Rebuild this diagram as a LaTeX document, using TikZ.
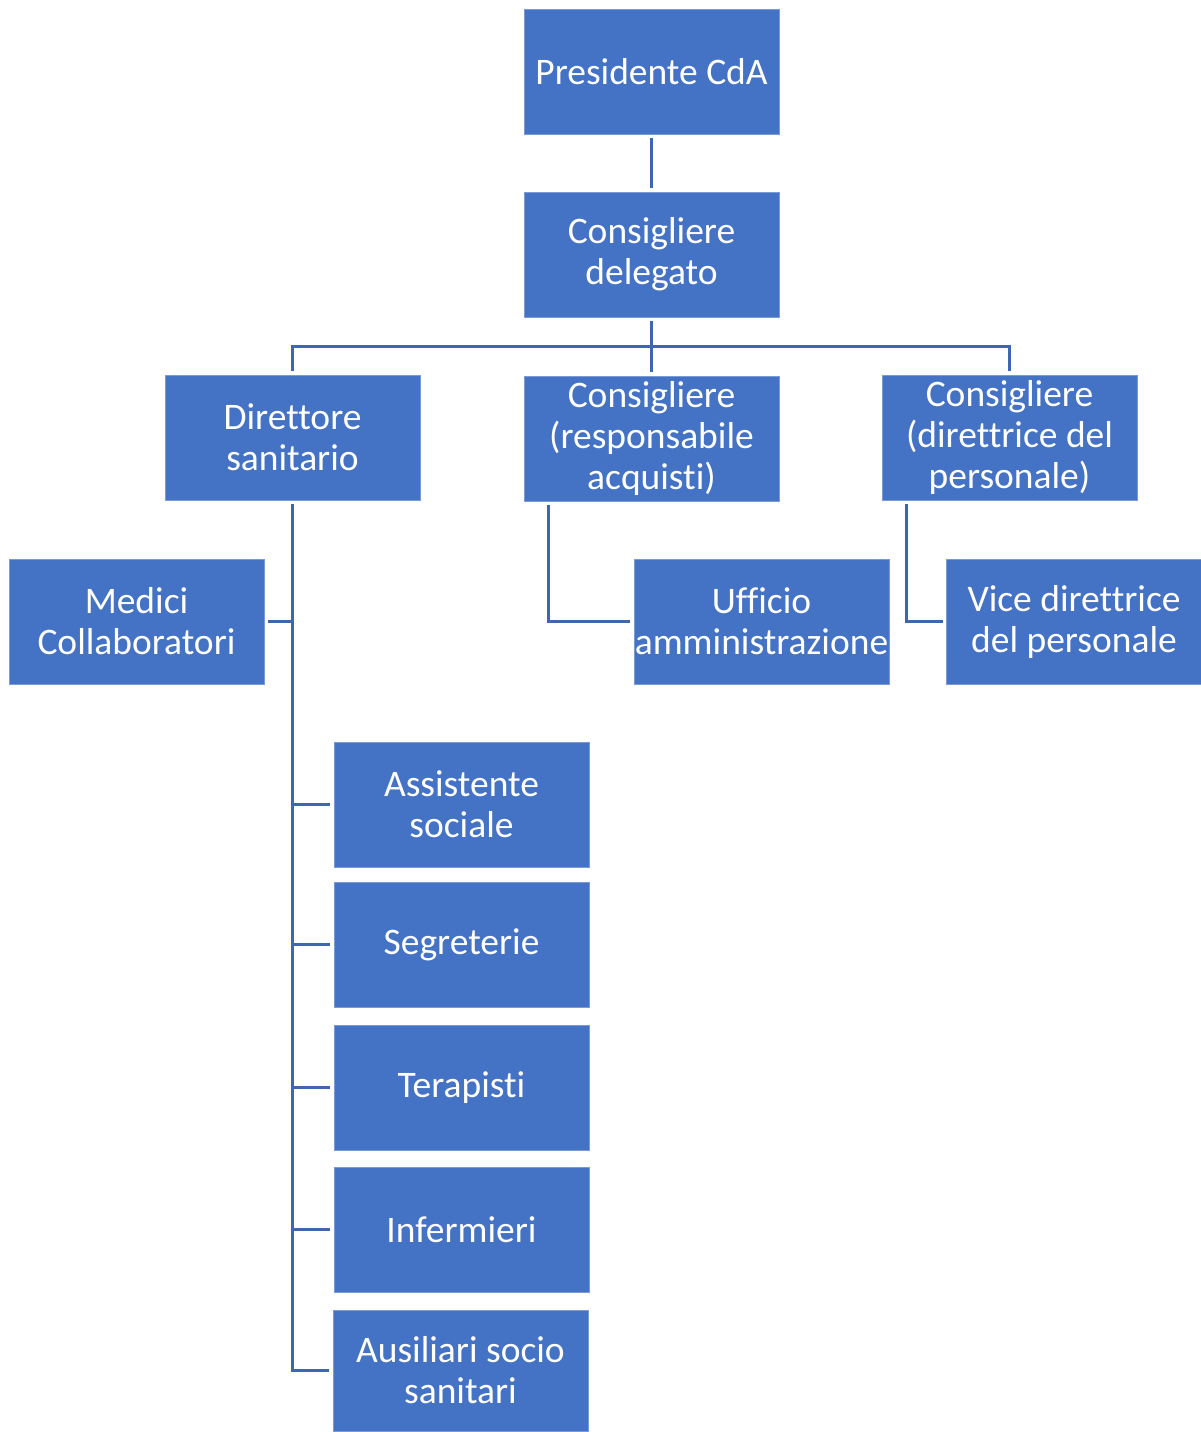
\documentclass[tikz,border=0pt]{standalone}
\usepackage{fontspec}
\setmainfont{Carlito}[Ligatures={NoCommon}]
\usetikzlibrary{positioning}
\definecolor{boxblue}{HTML}{4472C4}
\definecolor{boxedge}{HTML}{7B9BD6}
\definecolor{linkblue}{HTML}{3F66B0}
\tikzset{
  orgbox/.style={rectangle, fill=boxblue, draw=boxedge, line width=1pt,
    minimum width=255pt, minimum height=125pt, inner sep=0pt, outer sep=4pt,
    text=white, align=center,
    font=\fontsize{37.5}{41}\selectfont},
  link/.style={draw=linkblue, line width=3pt}
}
\begin{document}
\begin{tikzpicture}[x=1pt,y=-1pt]
\useasboundingbox (0,0) rectangle (1200,1432);
\node[orgbox] (P) at (651.5,71.5) {Presidente CdA};
\node[orgbox] (CD) at (651.5,254.5) {Consigliere\\delegato};
\node[orgbox] (DS) at (292.5,437.5) {Direttore\\sanitario};
\node[orgbox] (CR) at (651.5,438.5) {Consigliere\\(responsabile\\acquisti)};
\node[orgbox] (CP) at (1009.5,437.5) {Consigliere\\(direttrice del\\personale)};
\node[orgbox] (MC) at (136.5,621.5) {Medici\\Collaboratori};
\node[orgbox] (UA) at (761.5,621.5) {Ufficio\\amministrazione};
\node[orgbox] (VD) at (1074,621.5) {Vice direttrice\\del personale};
\node[orgbox] (AS) at (461.5,804.5) {Assistente\\sociale};
\node[orgbox] (SE) at (461.5,944.5) {Segreterie};
\node[orgbox] (TE) at (461.5,1087.5) {Terapisti};
\node[orgbox] (IN) at (461.5,1229.5) {Infermieri};
\node[orgbox, minimum height=121pt] (AU) at (460.5,1370.5) {Ausiliari socio\\sanitari};
\coordinate (bus) at (651.5,346);
% links
\draw[link] (P.south) -- (CD.north);
\draw[link] (CD.south) -- (CR.north);
\draw[link] (DS.north) |- (bus) -| (CP.north);
\draw[link] (DS.south) |- (AU.west);
\draw[link] (DS.south |- MC.east) -- (MC.east);
\draw[link] (DS.south |- AS.west) -- (AS.west);
\draw[link] (DS.south |- SE.west) -- (SE.west);
\draw[link] (DS.south |- TE.west) -- (TE.west);
\draw[link] (DS.south |- IN.west) -- (IN.west);
\draw[link] ([xshift=28pt]CR.south west) |- (UA.west);
\draw[link] ([xshift=28pt]CP.south west) |- (VD.west);
\end{tikzpicture}
\end{document}
